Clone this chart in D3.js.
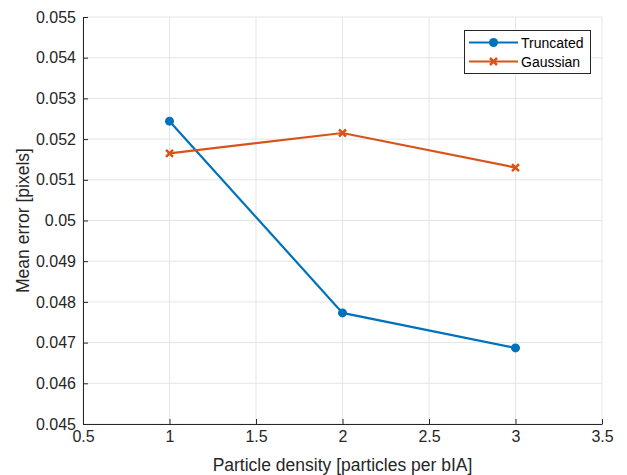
<!DOCTYPE html>
<html><head><meta charset="utf-8">
<script src="https://cdn.jsdelivr.net/npm/d3@7"></script>
<style>body{margin:0;background:#fff}</style>
</head><body>
<svg id="c" width="627" height="475"></svg>
<script>
const densities = [1, 2, 3];
const truncated = [0.05244, 0.04773, 0.04687];
const gaussian = [0.05165, 0.05215, 0.0513];
const xTicks = [0.5, 1, 1.5, 2, 2.5, 3, 3.5];
const yTicks = [0.045, 0.046, 0.047, 0.048, 0.049, 0.05, 0.051, 0.052, 0.053, 0.054, 0.055];
const seriesNames = ["Truncated", "Gaussian"];

const svg = d3.select("#c");
const L = 83, R = 602, T = 17, B = 424;
const x = d3.scaleLinear().domain([0.5, 3.5]).range([L, R]);
const y = d3.scaleLinear().domain([0.045, 0.055]).range([B, T]);
const axisCol = "#262626";
const font = "'Liberation Sans', Arial, Helvetica, sans-serif";

// grid
svg.append("g").selectAll("line").data(xTicks).join("line")
  .attr("x1", d => x(d)).attr("x2", d => x(d)).attr("y1", T).attr("y2", B)
  .attr("stroke", "#e5e5e5").attr("stroke-width", 1);
svg.append("g").selectAll("line").data(yTicks).join("line")
  .attr("y1", d => y(d)).attr("y2", d => y(d)).attr("x1", L).attr("x2", R)
  .attr("stroke", "#e5e5e5").attr("stroke-width", 1);

// axes
const xa = svg.append("g").attr("transform", `translate(0,${B})`)
  .call(d3.axisBottom(x).tickValues(xTicks).tickSizeInner(-5).tickSizeOuter(0).tickPadding(7).tickFormat(d3.format("")));
const ya = svg.append("g").attr("transform", `translate(${L},0)`)
  .call(d3.axisLeft(y).tickValues(yTicks).tickSizeInner(-5).tickSizeOuter(0).tickPadding(7).tickFormat(d => d3.format("")(+d.toFixed(3))));
[xa, ya].forEach(a => {
  a.select(".domain").attr("stroke", axisCol);
  a.selectAll(".tick line").attr("stroke", axisCol);
  a.selectAll("text").attr("fill", axisCol).attr("font-family", font).attr("font-size", 16);
});

// labels
svg.append("text").attr("x", (L + R) / 2).attr("y", 471).attr("text-anchor", "middle")
  .attr("font-family", font).attr("font-size", 17.5).attr("fill", axisCol)
  .text("Particle density [particles per bIA]");
svg.append("text").attr("transform", `translate(29,${(T + B) / 2}) rotate(-90)`).attr("text-anchor", "middle")
  .attr("font-family", font).attr("font-size", 17.5).attr("fill", axisCol)
  .text("Mean error [pixels]");

const colors = ["#0072BD", "#D95319"];
const data = [truncated, gaussian];
const line = d3.line().x((d, i) => x(densities[i])).y(d => y(d));

function drawMarker(g, kind, cx, cy, col) {
  if (kind === 0) {
    g.append("circle").attr("cx", cx).attr("cy", cy).attr("r", 4.5).attr("fill", col);
  } else {
    const s = 3.5;
    g.append("path").attr("d", `M${cx - s},${cy - s}L${cx + s},${cy + s}M${cx - s},${cy + s}L${cx + s},${cy - s}`)
      .attr("stroke", col).attr("stroke-width", 2.5).attr("fill", "none");
  }
}

data.forEach((vals, k) => {
  const g = svg.append("g");
  g.append("path").datum(vals).attr("d", line).attr("fill", "none")
    .attr("stroke", colors[k]).attr("stroke-width", 2.2);
  vals.forEach((v, i) => drawMarker(g, k, x(densities[i]), y(v), colors[k]));
});

// legend
const lg = svg.append("g");
lg.append("rect").attr("x", 464.5).attr("y", 30.5).attr("width", 126).attr("height", 43)
  .attr("fill", "#fff").attr("stroke", axisCol).attr("stroke-width", 1);
seriesNames.forEach((n, k) => {
  const yy = 42.5 + k * 19;
  lg.append("line").attr("x1", 469).attr("x2", 518).attr("y1", yy).attr("y2", yy)
    .attr("stroke", colors[k]).attr("stroke-width", 2.2);
  drawMarker(lg, k, 493.5, yy, colors[k]);
  lg.append("text").attr("x", 521).attr("y", yy + 5).attr("font-family", font)
    .attr("font-size", 14).attr("fill", "#000").text(n);
});
</script>
</body></html>
